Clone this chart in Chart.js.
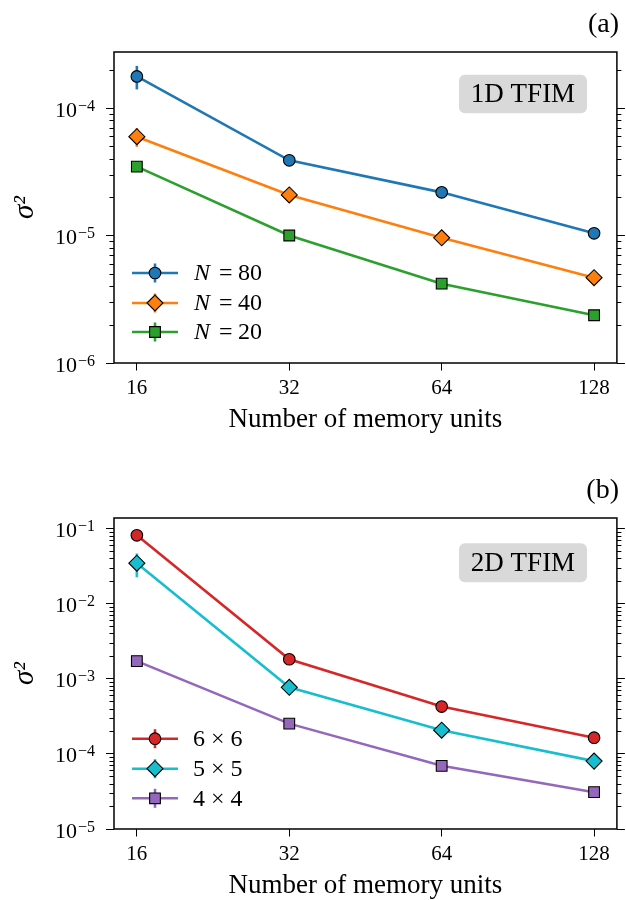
<!DOCTYPE html>
<html><head><meta charset="utf-8">
<script src="https://cdn.jsdelivr.net/npm/chart.js@4"></script>
<style>
html,body{margin:0;padding:0;background:#fff;}
#wrap{position:relative;width:626px;height:900px;background:#fff;}
.pan{position:absolute;left:0;width:626px;height:434px;}
</style></head><body>
<div id="wrap">
<div class="pan" style="top:0"><canvas id="ca" width="626" height="434"></canvas></div>
<div class="pan" style="top:466px"><canvas id="cb" width="626" height="434"></canvas></div>
</div>
<script>
// ---------- data ----------
const memoryUnits = [16, 32, 64, 128];
const xTickLabels = ['16', '32', '64', '128'];

// panel (a): 1D TFIM
const labelsA = ['80', '40', '20'];
const sigmaN80 = [1.77e-4, 3.89e-5, 2.18e-5, 1.04e-5];
const errN80   = [3.7e-5, 1.5e-6, 8e-7, 4e-7];
const sigmaN40 = [5.96e-5, 2.08e-5, 9.6e-6, 4.67e-6];
const errN40   = [1.0e-5, 8e-7, 4e-7, 2e-7];
const sigmaN20 = [3.47e-5, 1.0e-5, 4.19e-6, 2.37e-6];
const errN20   = [2.0e-6, 4e-7, 2e-7, 1e-7];

// panel (b): 2D TFIM
const labelsB = ['6 × 6', '5 × 5', '4 × 4'];
const sigma6x6 = [0.0807, 1.81e-3, 4.25e-4, 1.64e-4];
const err6x6   = [0.008, 1.0e-4, 2e-5, 8e-6];
const sigma5x5 = [0.0343, 7.66e-4, 2.06e-4, 8.0e-5];
const err5x5   = [0.012, 5e-5, 1e-5, 4e-6];
const sigma4x4 = [1.71e-3, 2.52e-4, 6.92e-5, 3.09e-5];
const err4x4   = [1.0e-4, 1.5e-5, 4e-6, 2e-6];

// ---------- style ----------
const FONT = "'Liberation Serif', 'Times New Roman', serif";
Chart.defaults.font.family = FONT;
Chart.defaults.color = '#000';

const C = {
  blue: '#1f77b4', orange: '#ff7f0e', green: '#2ca02c',
  red: '#d62728', cyan: '#17becf', purple: '#9467bd'
};
const LW = 2.6;

function pts(vals) { return memoryUnits.map((x, i) => ({x: x, y: vals[i]})); }

function ds(label, vals, errs, color, style, radius) {
  return {
    label: label, data: pts(vals), errors: errs,
    borderColor: color, backgroundColor: color, borderWidth: LW,
    pointStyle: style, pointRadius: radius, pointHoverRadius: radius,
    pointBackgroundColor: color, pointBorderColor: '#000', pointBorderWidth: 1.1,
    tension: 0, fill: false
  };
}

const decor = {
  id: 'decor',
  beforeDatasetsDraw(chart) {
    const ctx = chart.ctx, xs = chart.scales.x, ys = chart.scales.y, a = chart.chartArea;
    ctx.save();
    ctx.beginPath(); ctx.rect(a.left, a.top, a.right - a.left, a.bottom - a.top); ctx.clip();
    chart.data.datasets.forEach(d => {
      ctx.strokeStyle = d.borderColor; ctx.lineWidth = LW;
      d.data.forEach((p, j) => {
        const e = d.errors[j];
        const px = xs.getPixelForValue(p.x);
        const y1 = ys.getPixelForValue(p.y + e);
        const y2 = ys.getPixelForValue(Math.max(p.y - e, ys.min * 0.5));
        ctx.beginPath(); ctx.moveTo(px, y1); ctx.lineTo(px, y2); ctx.stroke();
      });
    });
    ctx.restore();
  },
  afterDraw(chart, args, o) {
    const ctx = chart.ctx, ys = chart.scales.y, a = chart.chartArea;
    ctx.save();
    // frame
    ctx.strokeStyle = '#000'; ctx.lineWidth = 1.5;
    ctx.strokeRect(a.left, a.top, a.right - a.left, a.bottom - a.top);
    // minor ticks (both sides)
    ctx.lineWidth = 1;
    const e0 = Math.floor(Math.log10(ys.min)), e1 = Math.ceil(Math.log10(ys.max));
    for (let e = e0; e <= e1; e++) {
      for (let k = 2; k <= 9; k++) {
        const v = k * Math.pow(10, e);
        if (v < ys.min || v > ys.max) continue;
        const py = Math.round(ys.getPixelForValue(v)) + 0.5;
        ctx.beginPath();
        ctx.moveTo(a.left, py); ctx.lineTo(a.left - 4.5, py);
        ctx.moveTo(a.right, py); ctx.lineTo(a.right + 4.5, py);
        ctx.stroke();
      }
    }
    // y tick labels 10^e
    ys.ticks.forEach(t => {
      const ex = Math.round(Math.log10(t.value));
      const py = ys.getPixelForValue(t.value);
      const right = 95;
      ctx.fillStyle = '#000';
      ctx.textBaseline = 'alphabetic';
      ctx.font = '16px ' + FONT;
      const sup = (ex < 0 ? '\u2212' : '') + Math.abs(ex);
      const sw = ctx.measureText(sup).width;
      ctx.textAlign = 'left';
      ctx.fillText(sup, right - sw, py + 2.5);
      ctx.font = '22px ' + FONT;
      ctx.textAlign = 'right';
      ctx.fillText('10', right - sw - 1, py + 8.5);
    });
    // annotation box
    const b = o.box;
    ctx.fillStyle = '#d9d9d9';
    ctx.beginPath();
    if (ctx.roundRect) ctx.roundRect(b.x0, b.y0, b.x1 - b.x0, b.y1 - b.y0, 6);
    else ctx.rect(b.x0, b.y0, b.x1 - b.x0, b.y1 - b.y0);
    ctx.fill();
    ctx.fillStyle = '#000';
    ctx.font = '27px ' + FONT;
    ctx.textAlign = 'center'; ctx.textBaseline = 'middle';
    ctx.fillText(b.text, (b.x0 + b.x1) / 2, (b.y0 + b.y1) / 2 + 1);
    // panel label
    ctx.font = '28px ' + FONT;
    ctx.textAlign = 'right';
    ctx.fillText(o.panel, 619, 25);
    // legend
    o.legendRows.forEach((yRow, i) => {
      const d = chart.data.datasets[i];
      ctx.strokeStyle = d.borderColor; ctx.lineWidth = LW;
      ctx.beginPath(); ctx.moveTo(132, yRow); ctx.lineTo(178, yRow); ctx.stroke();
      ctx.beginPath(); ctx.moveTo(155, yRow - 9.5); ctx.lineTo(155, yRow + 9.5); ctx.stroke();
      ctx.fillStyle = d.pointBackgroundColor; ctx.strokeStyle = '#000'; ctx.lineWidth = 1.1;
      Chart.helpers.drawPoint(ctx, {pointStyle: d.pointStyle, radius: d.pointRadius, borderWidth: 1.1, rotation: 0}, 155, yRow);
      ctx.fillStyle = '#000';
      ctx.textBaseline = 'middle'; ctx.textAlign = 'left';
      if (o.mathN) {
        ctx.font = 'italic 24px ' + FONT;
        ctx.fillText('N', 194, yRow + 1);
        ctx.font = '24px ' + FONT;
        ctx.fillText('=', 219, yRow + 1);
        ctx.fillText(o.legendText[i], 238, yRow + 1);
      } else {
        ctx.font = '24px ' + FONT;
        ctx.fillText(o.legendText[i], 193, yRow + 1);
      }
    });
    ctx.restore();
  }
};

function decades(min, max) {
  const out = [];
  for (let e = Math.ceil(Math.log10(min) - 1e-9); e <= Math.floor(Math.log10(max) + 1e-9); e++) out.push(Math.pow(10, e));
  return out;
}

function makeChart(id, datasets, yMin, yMax, decorOpts) {
  const yTicks = decades(yMin, yMax);
  return new Chart(document.getElementById(id), {
    type: 'line',
    data: {datasets: datasets},
    plugins: [decor],
    options: {
      responsive: false, animation: false, devicePixelRatio: 1, events: [],
      layout: {padding: {top: 52, left: 0, right: 0, bottom: 0}},
      plugins: {legend: {display: false}, tooltip: {enabled: false}, decor: decorOpts},
      scales: {
        x: {
          type: 'logarithmic', min: 14.42, max: 142.0, bounds: 'data',
          afterBuildTicks: s => { s.ticks = memoryUnits.map(v => ({value: v})); },
          afterFit: s => { s.height = 434 - 363; },
          ticks: {autoSkip: false, maxRotation: 0, padding: 5, font: {size: 21}, color: '#000',
                  callback: v => { const i = memoryUnits.indexOf(v); return i >= 0 ? xTickLabels[i] : ''; }},
          grid: {display: true, drawOnChartArea: false, drawTicks: true, tickLength: 7.5, tickColor: '#000', tickWidth: 1},
          border: {display: false},
          title: {display: true, text: 'Number of memory units', color: '#000',
                  font: {size: 27, lineHeight: 1}, padding: {top: 0, bottom: 1}}
        },
        y: {
          type: 'logarithmic', position: 'left', min: yMin, max: yMax, bounds: 'data',
          afterBuildTicks: s => { s.ticks = yTicks.map(v => ({value: v, major: true})); },
          afterFit: s => { s.width = 114; },
          ticks: {display: false},
          grid: {display: true, drawOnChartArea: false, drawTicks: true, tickLength: 8, tickColor: '#000', tickWidth: 1},
          border: {display: false},
          title: {display: true, text: 'σ²', color: '#000',
                  font: {size: 29, style: 'italic', lineHeight: 1.2}, padding: {top: 8, bottom: 0}}
        },
        y2: {
          type: 'logarithmic', position: 'right', min: yMin, max: yMax, bounds: 'data',
          afterBuildTicks: s => { s.ticks = yTicks.map(v => ({value: v, major: true})); },
          afterFit: s => { s.width = 6; },
          ticks: {display: false},
          grid: {display: true, drawOnChartArea: false, drawTicks: true, tickLength: 8, tickColor: '#000', tickWidth: 1},
          border: {display: false}
        }
      }
    }
  });
}

makeChart('ca', [
  ds('N = ' + labelsA[0], sigmaN80, errN80, C.blue, 'circle', 5.8),
  ds('N = ' + labelsA[1], sigmaN40, errN40, C.orange, 'rectRot', 8),
  ds('N = ' + labelsA[2], sigmaN20, errN20, C.green, 'rect', 7.6)
], 1e-6, 2.75e-4, {
  box: {x0: 459, y0: 74.7, x1: 587, y1: 113.3, text: '1D TFIM'},
  panel: '(a)', legendRows: [273, 303, 332], legendText: labelsA, mathN: true
});

makeChart('cb', [
  ds(labelsB[0], sigma6x6, err6x6, C.red, 'circle', 5.8),
  ds(labelsB[1], sigma5x5, err5x5, C.cyan, 'rectRot', 8),
  ds(labelsB[2], sigma4x4, err4x4, C.purple, 'rect', 7.6)
], 1e-5, 0.137, {
  box: {x0: 459, y0: 77.3, x1: 587, y1: 116.3, text: '2D TFIM'},
  panel: '(b)', legendRows: [272.7, 302.7, 332.3], legendText: labelsB, mathN: false
});
</script>
</body></html>
